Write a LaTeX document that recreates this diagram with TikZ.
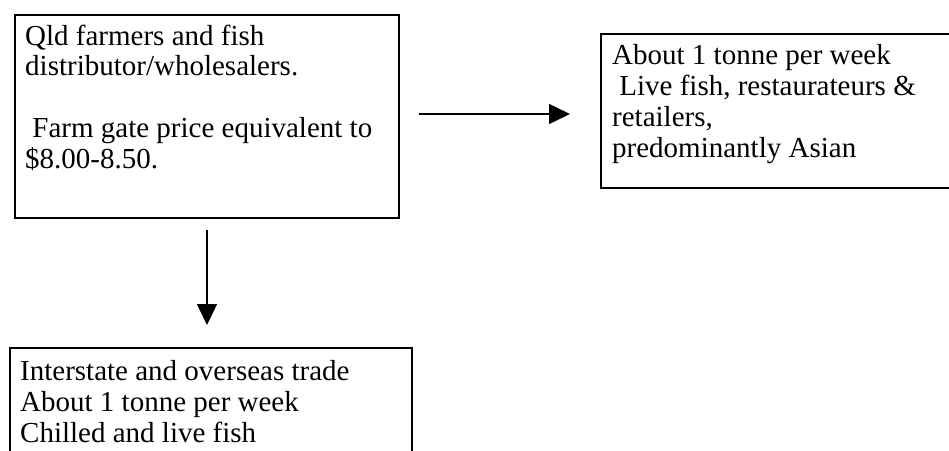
\documentclass[tikz,border=0pt]{standalone}
\usepackage{fontspec}
\setmainfont{Liberation Serif}
\usetikzlibrary{arrows.meta}
\tikzset{
  boxshape/.style={draw=black, line width=1.5pt, rectangle, inner sep=0pt},
  boxtext/.style={anchor=base west, align=left, inner sep=0pt,
    font=\fontsize{29}{30.7}\selectfont},
  flow/.style={draw=black, line width=1.4pt, -{Triangle[length=21pt,width=20pt]}}
}
\begin{document}
\begin{tikzpicture}[x=1pt,y=-1pt]
\useasboundingbox (0,0) rectangle (949,450);
\clip (0,0) rectangle (949,450);
% boxes
\node[boxshape, minimum width=384pt, minimum height=203pt, anchor=north west] (b1) at (14,14) {};
\node[boxshape, minimum width=360pt, minimum height=154pt, anchor=north west] (b2) at (600,33) {};
\node[boxshape, minimum width=402pt, minimum height=130pt, anchor=north west] (b3) at (9,347) {};
% texts (anchored at the baseline of their last line)
\node[boxtext] (t1) at (25,168) {Qld farmers and fish\\distributor/wholesalers.\\[30.7pt]\hspace{0.25em}Farm gate price equivalent to\\\$8.00-8.50.};
\node[boxtext] (t2) at (612,157) {About 1 tonne per week\\\hspace{0.25em}Live fish, restaurateurs \&\\retailers,\\predominantly Asian};
\node[boxtext] (t3) at (20,442) {Interstate and overseas trade\\About 1 tonne per week\\Chilled and live fish};
% connectors
\coordinate (ya) at (0,114);
\coordinate (xa) at (207,0);
\draw[flow, shorten <=19pt, shorten >=30pt] (b1.east |- ya) -- (b2.west |- ya);
\draw[flow, shorten <=11pt, shorten >=22pt] (b1.south -| xa) -- (b3.north -| xa);
\end{tikzpicture}
\end{document}
